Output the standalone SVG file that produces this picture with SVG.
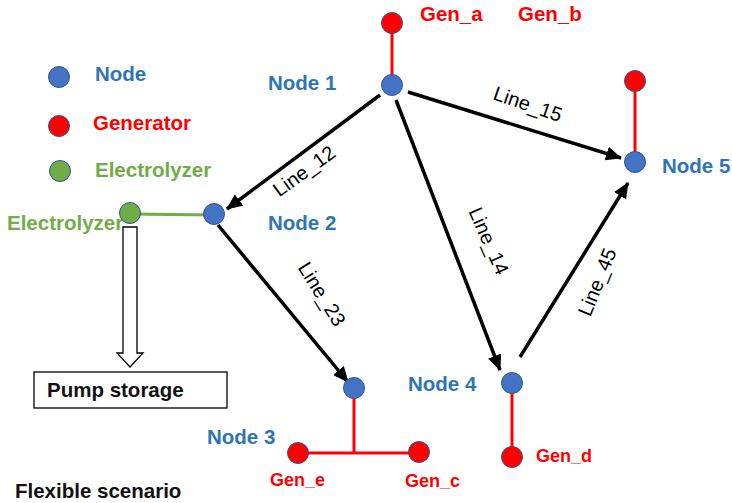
<svg xmlns="http://www.w3.org/2000/svg" width="732" height="503" viewBox="0 0 732 503">
  <defs>
    <style>
      .lbl { font-family: "Liberation Sans", Arial, sans-serif; font-weight: bold; font-size: 20.5px; }
      .node-t { fill: #2E75B6; }
      .gen-t { fill: #FF0000; }
      .ely-t { fill: #70AD47; }
      .blk-t { fill: #111111; }
      .small { font-size: 18px; }
      .line-t { font-family: "Liberation Sans", Arial, sans-serif; font-size: 20px; fill: #000; }
      .bus { fill: #4472C4; stroke: #2F528F; stroke-width: 1; }
      .gen { fill: #FF0000; stroke: #2F528F; stroke-width: 1; }
      .ely { fill: #70AD47; stroke: #2F528F; stroke-width: 1; }
      .flow { stroke: #000; stroke-width: 3.5; fill: none; marker-end: url(#head); }
      .tie { stroke: #FF0000; stroke-width: 3; fill: none; }
    </style>
    <marker id="head" markerUnits="userSpaceOnUse" markerWidth="16" markerHeight="14" viewBox="0 0 16 14" refX="15" refY="7" orient="auto">
      <path d="M0,0 L16,7 L0,14 Z" fill="#000"/>
    </marker>
  </defs>

  <rect width="732" height="503" fill="#ffffff"/>

  <!-- legend -->
  <g id="legend">
    <circle class="bus" cx="59" cy="77" r="10.5"/>
    <text class="lbl node-t" x="95" y="81">Node</text>
    <circle class="gen" cx="59" cy="126" r="10.5"/>
    <text class="lbl gen-t" x="93" y="130">Generator</text>
    <circle class="ely" cx="60" cy="171" r="10.5"/>
    <text class="lbl ely-t" x="95" y="177">Electrolyzer</text>
  </g>

  <!-- connectors -->
  <g id="connectors">
    <line class="tie" x1="392" y1="23" x2="392" y2="85"/>
    <line class="tie" x1="635" y1="81" x2="635" y2="162"/>
    <polyline class="tie" points="354,388 354,453"/>
    <line class="tie" x1="298" y1="453" x2="419" y2="453"/>
    <line class="tie" x1="512" y1="383" x2="512" y2="457"/>
    <line x1="130" y1="214" x2="214" y2="215" stroke="#70AD47" stroke-width="3"/>

    <line class="flow" x1="380" y1="95" x2="227" y2="209"/>
    <line class="flow" x1="408" y1="92" x2="621" y2="158"/>
    <line class="flow" x1="396" y1="100" x2="500" y2="370"/>
    <line class="flow" x1="218" y1="225" x2="348" y2="382"/>
    <line class="flow" x1="520" y1="357" x2="628" y2="183"/>

    <!-- hollow transfer arrow to storage -->
    <path d="M123,227 L137,227 L137,353 L143,353 L130,367 L117,353 L123,353 Z" fill="#ffffff" stroke="#000" stroke-width="1.3"/>

    <text class="line-t" text-anchor="middle" transform="translate(304,171) rotate(-36)" dy="7">Line_12</text>
    <text class="line-t" text-anchor="middle" transform="translate(528,104) rotate(19)" dy="7">Line_15</text>
    <text class="line-t" text-anchor="middle" transform="translate(489,241) rotate(66)" dy="7">Line_14</text>
    <text class="line-t" text-anchor="middle" transform="translate(322,294) rotate(58)" dy="7">Line_23</text>
    <text class="line-t" text-anchor="middle" transform="translate(597,282) rotate(-68)" dy="7">Line_45</text>
  </g>

  <!-- nodes -->
  <g id="node1">
    <circle class="bus" cx="392" cy="85" r="10.5"/>
    <text class="lbl node-t" x="268" y="90">Node 1</text>
  </g>
  <g id="node2">
    <circle class="bus" cx="214" cy="214" r="10.5"/>
    <text class="lbl node-t" x="268" y="230">Node 2</text>
  </g>
  <g id="node3">
    <circle class="bus" cx="354" cy="388" r="10.5"/>
    <text class="lbl node-t" x="207" y="444">Node 3</text>
  </g>
  <g id="node4">
    <circle class="bus" cx="512" cy="383" r="10.5"/>
    <text class="lbl node-t" x="408" y="391">Node 4</text>
  </g>
  <g id="node5">
    <circle class="bus" cx="635" cy="162" r="10.5"/>
    <text class="lbl node-t" x="662" y="173">Node 5</text>
  </g>

  <!-- generators -->
  <g id="gen-a">
    <circle class="gen" cx="392" cy="23" r="10.5"/>
    <text class="lbl gen-t" x="420" y="21">Gen_a</text>
  </g>
  <g id="gen-b">
    <circle class="gen" cx="635" cy="81" r="10.5"/>
    <text class="lbl gen-t" x="518" y="21">Gen_b</text>
  </g>
  <g id="gen-e">
    <circle class="gen" cx="298" cy="453" r="10.5"/>
    <text class="lbl gen-t small" x="270" y="486">Gen_e</text>
  </g>
  <g id="gen-c">
    <circle class="gen" cx="419" cy="452" r="10.5"/>
    <text class="lbl gen-t small" x="405" y="487">Gen_c</text>
  </g>
  <g id="gen-d">
    <circle class="gen" cx="512" cy="457" r="10.5"/>
    <text class="lbl gen-t small" x="536" y="462">Gen_d</text>
  </g>

  <!-- electrolyzer -->
  <g id="electrolyzer">
    <text class="lbl ely-t" x="7" y="230">Electrolyzer</text>
    <circle class="ely" cx="130" cy="213" r="10.5"/>
  </g>

  <!-- storage -->
  <g id="pump-storage">
    <rect x="34" y="372" width="193" height="36" fill="#ffffff" stroke="#000" stroke-width="1.3"/>
    <text class="lbl blk-t" x="47" y="397">Pump storage</text>
  </g>

  <text class="lbl blk-t" x="15" y="498">Flexible scenario</text>
</svg>
